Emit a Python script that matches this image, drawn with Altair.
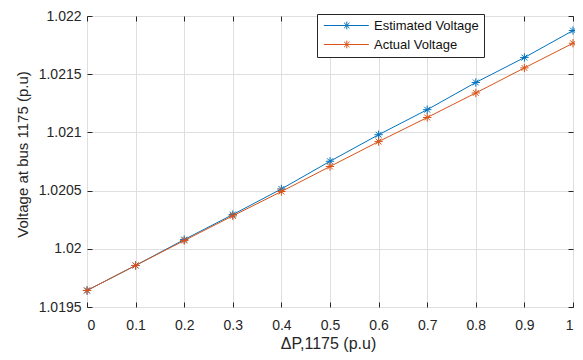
import altair as alt
import pandas as pd

x_vals = [0.0, 0.1, 0.2, 0.3, 0.4, 0.5, 0.6, 0.7, 0.8, 0.9, 1.0]
estimated = [1.019642, 1.019857, 1.020079, 1.020294, 1.020514, 1.020752,
             1.020980, 1.021195, 1.021429, 1.021643, 1.021875]
actual = [1.019642, 1.019857, 1.020071, 1.020283, 1.020492, 1.020707,
          1.020921, 1.021128, 1.021339, 1.021554, 1.021766]
series_names = ["Estimated Voltage", "Actual Voltage"]
series_colors = ["#0072BD", "#D95319"]
x_ticks = [0.0, 0.1, 0.2, 0.3, 0.4, 0.5, 0.6, 0.7, 0.8, 0.9, 1.0]
y_ticks = [1.0195, 1.02, 1.0205, 1.021, 1.0215, 1.022]

rows = []
for name, vals in zip(series_names, [estimated, actual]):
    for xv, yv in zip(x_vals, vals):
        rows.append({"dp": xv, "v": yv, "series": name})
df = pd.DataFrame(rows)

W, H = 486, 291
TXT = "#262626"
FONT = "Liberation Sans"

star = "M-1,0H1M0,-1V1M-0.7,-0.7L0.7,0.7M-0.7,0.7L0.7,-0.7"
legend_sym = ("M-0.94,0H8.06M3.66,-0.77V0.77M2.89,0H4.43"
              "M3.12,-0.54L4.2,0.54M3.12,0.54L4.2,-0.54")

xscale = alt.Scale(domain=[0, 1], nice=False)
yscale = alt.Scale(domain=[1.0195, 1.022], nice=False, zero=False)
cscale = alt.Scale(domain=series_names, range=series_colors)

label_x_axis = alt.Axis(values=x_ticks, format=".1~f", ticks=False, tickSize=0,
                        domain=False, grid=True, gridColor="#dfdfdf",
                        labelFontSize=14, labelColor=TXT, labelFont=FONT,
                        labelPadding=11, title="ΔP,1175 (p.u)",
                        titleFontSize=16, titleFont=FONT, titleColor=TXT,
                        titleFontWeight="normal", titleX=241, titleY=41,
                        titleAlign="center", titleBaseline="alphabetic")
label_y_axis = alt.Axis(values=y_ticks, format=".4~f", ticks=False, tickSize=0,
                        domain=False, grid=True, gridColor="#dfdfdf",
                        labelFontSize=14, labelColor=TXT, labelFont=FONT,
                        labelPadding=6, title="Voltage at bus 1175 (p.u)",
                        titleFontSize=15, titleFont=FONT, titleColor=TXT,
                        titleFontWeight="normal", titleX=-60, titleY=138,
                        titleAlign="center", titleBaseline="alphabetic",
                        titleAngle=270)


def tick_axis(values, orient, offset):
    return alt.Axis(values=values, orient=orient, offset=offset, labels=False,
                    domain=False, grid=False, ticks=True, tickSize=5,
                    tickColor=TXT, tickWidth=1, title=None)


color_legend = alt.Legend(title=None, orient="none", legendX=230, legendY=-2,
                          symbolType=legend_sym, symbolSize=100,
                          symbolStrokeWidth=1, symbolFillColor="transparent",
                          labelFontSize=13, labelFont=FONT, labelColor="#111111",
                          labelOffset=39, padding=5, rowPadding=5,
                          strokeColor=TXT, fillColor="white")

base = alt.Chart(df)

est_line = base.transform_filter(alt.datum.series == series_names[0]).mark_line(
    strokeWidth=1).encode(
    x=alt.X("dp:Q", scale=xscale, axis=label_x_axis),
    y=alt.Y("v:Q", scale=yscale, axis=label_y_axis),
    color=alt.Color("series:N", scale=cscale, legend=color_legend),
)
est_pts = base.transform_filter(alt.datum.series == series_names[0]).mark_point(
    shape=star, size=70, filled=False, strokeWidth=1, opacity=1).encode(
    x=alt.X("dp:Q", scale=xscale, axis=tick_axis(x_ticks, "top", -H)),
    y=alt.Y("v:Q", scale=yscale, axis=tick_axis(y_ticks, "right", -W)),
    color=alt.Color("series:N", scale=cscale, legend=None),
)
act_line = base.transform_filter(alt.datum.series == series_names[1]).mark_line(
    strokeWidth=1).encode(
    x=alt.X("dp:Q", scale=xscale, axis=tick_axis(x_ticks, "bottom", -H)),
    y=alt.Y("v:Q", scale=yscale, axis=tick_axis(y_ticks, "left", -W)),
    color=alt.Color("series:N", scale=cscale, legend=None),
)
act_pts = base.transform_filter(alt.datum.series == series_names[1]).mark_point(
    shape=star, size=70, filled=False, strokeWidth=1, opacity=1).encode(
    x=alt.X("dp:Q", scale=xscale, axis=None),
    y=alt.Y("v:Q", scale=yscale, axis=None),
    color=alt.Color("series:N", scale=cscale, legend=None),
)

chart = alt.layer(est_line, est_pts, act_line, act_pts).resolve_axis(
    x="independent", y="independent"
).properties(
    width=W, height=H,
    autosize=alt.AutoSizeParams(type="none"),
    padding={"left": 79, "top": 8, "right": 2, "bottom": 45},
    background="white",
).configure_view(stroke=TXT, strokeWidth=1)

chart.save("out.html", embed_options={"renderer": "svg", "actions": False})
